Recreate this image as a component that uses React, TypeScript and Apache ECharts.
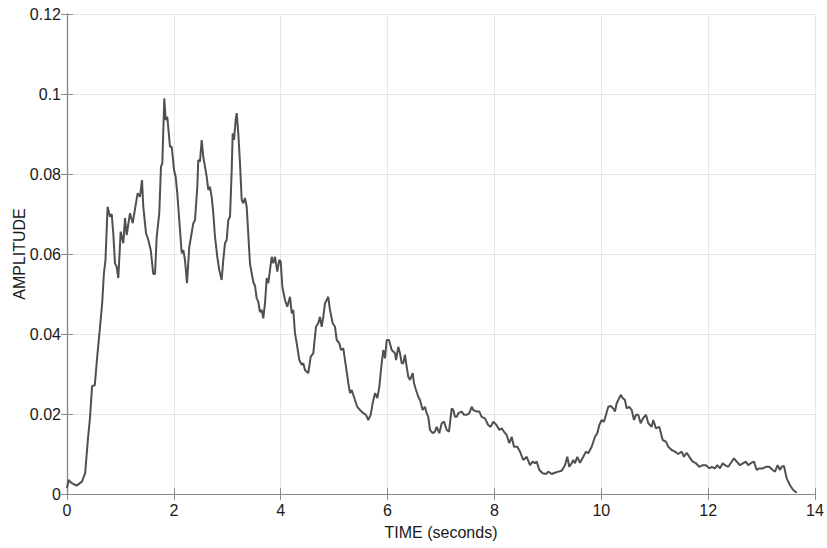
import React, { useEffect, useRef } from "react";
import * as echarts from "echarts";

// Time (seconds) and amplitude
const timeSec: number[] = [
  0, 0.03, 0.08, 0.18, 0.28, 0.34, 0.39, 0.43, 0.47, 0.52, 0.57, 0.62, 0.66, 0.69, 0.72, 0.76,
  0.805, 0.837, 0.867, 0.898, 0.93, 0.96, 1.005, 1.054, 1.086, 1.117, 1.179, 1.23, 1.291, 1.323,
  1.366, 1.404, 1.428, 1.479, 1.522, 1.567, 1.615, 1.647, 1.679, 1.727, 1.759, 1.784, 1.821, 1.847,
  1.877, 1.928, 1.96, 2.003, 2.034, 2.064, 2.115, 2.147, 2.177, 2.208, 2.246, 2.289, 2.321, 2.364,
  2.396, 2.439, 2.457, 2.489, 2.521, 2.551, 2.583, 2.615, 2.645, 2.676, 2.708, 2.738, 2.77, 2.813,
  2.85, 2.895, 2.925, 2.957, 2.989, 3.019, 3.051, 3.083, 3.101, 3.126, 3.157, 3.176, 3.206, 3.238,
  3.27, 3.3, 3.331, 3.363, 3.393, 3.425, 3.457, 3.487, 3.519, 3.55, 3.58, 3.612, 3.644, 3.674,
  3.706, 3.738, 3.768, 3.831, 3.861, 3.893, 3.936, 3.973, 4.0, 4.03, 4.08, 4.123, 4.174, 4.206,
  4.235, 4.267, 4.299, 4.348, 4.393, 4.423, 4.454, 4.516, 4.561, 4.61, 4.66, 4.703, 4.735, 4.767,
  4.797, 4.829, 4.861, 4.89, 4.922, 4.973, 5.016, 5.048, 5.096, 5.128, 5.171, 5.222, 5.265, 5.297,
  5.329, 5.39, 5.433, 5.484, 5.546, 5.596, 5.639, 5.684, 5.721, 5.765, 5.808, 5.845, 5.89, 5.92,
  5.952, 5.984, 6.027, 6.077, 6.139, 6.158, 6.201, 6.232, 6.264, 6.294, 6.326, 6.358, 6.388, 6.42,
  6.47, 6.495, 6.532, 6.575, 6.607, 6.657, 6.7, 6.732, 6.762, 6.794, 6.844, 6.887, 6.919, 6.968,
  7.013, 7.056, 7.107, 7.15, 7.2, 7.23, 7.262, 7.294, 7.324, 7.387, 7.43, 7.481, 7.53, 7.574,
  7.604, 7.668, 7.717, 7.761, 7.823, 7.885, 7.93, 7.979, 8.042, 8.091, 8.136, 8.179, 8.23, 8.278,
  8.323, 8.366, 8.428, 8.478, 8.54, 8.604, 8.666, 8.716, 8.759, 8.791, 8.84, 8.903, 8.965, 9.008,
  9.072, 9.133, 9.195, 9.259, 9.321, 9.364, 9.401, 9.446, 9.476, 9.508, 9.551, 9.601, 9.663, 9.714,
  9.757, 9.82, 9.882, 9.925, 9.962, 10.007, 10.05, 10.088, 10.131, 10.176, 10.224, 10.256, 10.288,
  10.337, 10.363, 10.4, 10.443, 10.475, 10.524, 10.569, 10.612, 10.65, 10.692, 10.737, 10.786,
  10.836, 10.88, 10.943, 10.973, 11.024, 11.085, 11.149, 11.211, 11.254, 11.318, 11.379, 11.441,
  11.505, 11.548, 11.598, 11.647, 11.711, 11.772, 11.834, 11.898, 11.96, 12.021, 12.066, 12.128,
  12.171, 12.221, 12.272, 12.315, 12.377, 12.422, 12.484, 12.534, 12.596, 12.658, 12.703, 12.751,
  12.796, 12.858, 12.909, 12.957, 13.021, 13.082, 13.144, 13.208, 13.251, 13.301, 13.344, 13.376,
  13.419, 13.47, 13.532, 13.593, 13.657,
];

const amplitude: number[] = [
  0.0015, 0.0035, 0.0028, 0.0021, 0.0031, 0.0052, 0.0135, 0.019, 0.027, 0.0272, 0.035, 0.042, 0.048, 0.055, 0.0585, 0.0718,
  0.0693, 0.07, 0.065, 0.0577, 0.0568, 0.054, 0.0656, 0.0627, 0.069, 0.0647, 0.0702, 0.0677, 0.0727, 0.0752,
  0.0743, 0.0785, 0.0718, 0.0652, 0.0635, 0.061, 0.055, 0.055, 0.0643, 0.0702, 0.0818, 0.0827, 0.0989, 0.0935,
  0.0943, 0.0868, 0.0868, 0.081, 0.0793, 0.0752, 0.066, 0.0602, 0.061, 0.0585, 0.0527, 0.0618, 0.0643, 0.0677,
  0.0685, 0.0768, 0.0835, 0.0831, 0.0885, 0.0843, 0.0818, 0.0793, 0.076, 0.0768, 0.0743, 0.0702, 0.0643, 0.0593,
  0.056, 0.0535, 0.0585, 0.0627, 0.0635, 0.0685, 0.0693, 0.081, 0.0902, 0.0885, 0.0935, 0.0952, 0.0902, 0.0827,
  0.0735, 0.0727, 0.074, 0.0718, 0.065, 0.0575, 0.0552, 0.053, 0.052, 0.049, 0.048, 0.0455, 0.046, 0.0439,
  0.0477, 0.054, 0.0527, 0.0593, 0.0577, 0.0593, 0.0556, 0.0585, 0.0581, 0.0518, 0.0485, 0.0468, 0.0493, 0.0452,
  0.046, 0.0402, 0.0377, 0.0335, 0.0323, 0.0327, 0.031, 0.0302, 0.0343, 0.0352, 0.0418, 0.0427, 0.0443, 0.0418,
  0.0443, 0.0477, 0.0485, 0.0493, 0.046, 0.0427, 0.0418, 0.0385, 0.0377, 0.036, 0.0364, 0.0318, 0.0277, 0.0252,
  0.026, 0.0235, 0.0218, 0.021, 0.0202, 0.0198, 0.0185, 0.0198, 0.0227, 0.0252, 0.024, 0.0268, 0.0327, 0.036,
  0.0339, 0.0385, 0.0385, 0.036, 0.0352, 0.0335, 0.0368, 0.0352, 0.0327, 0.0327, 0.0348, 0.0318, 0.0293, 0.0285,
  0.0302, 0.0277, 0.026, 0.0243, 0.0235, 0.021, 0.0218, 0.0202, 0.0193, 0.016, 0.0152, 0.0156, 0.0168, 0.0152,
  0.0177, 0.0181, 0.016, 0.0156, 0.0214, 0.021, 0.0193, 0.0193, 0.0202, 0.0206, 0.0198, 0.0198, 0.0202, 0.0218,
  0.021, 0.0206, 0.0206, 0.0193, 0.0189, 0.0172, 0.0168, 0.0181, 0.0172, 0.016, 0.0164, 0.0156, 0.0147, 0.0127,
  0.0143, 0.0118, 0.0118, 0.0106, 0.0085, 0.0093, 0.0072, 0.0081, 0.0077, 0.0081, 0.006, 0.0052, 0.005, 0.0056,
  0.005, 0.0053, 0.0056, 0.0058, 0.0072, 0.0093, 0.0068, 0.0077, 0.0085, 0.0077, 0.0093, 0.0078, 0.0093, 0.0106,
  0.0102, 0.0118, 0.0143, 0.0152, 0.0172, 0.0185, 0.0181, 0.0198, 0.0218, 0.022, 0.0214, 0.0206, 0.0227,
  0.024, 0.0248, 0.024, 0.0235, 0.0214, 0.0218, 0.021, 0.0185, 0.0198, 0.0198, 0.0177, 0.019,
  0.0198, 0.0177, 0.0168, 0.0185, 0.0164, 0.0168, 0.0135, 0.0131, 0.0118, 0.011, 0.0106, 0.01,
  0.0106, 0.0093, 0.0103, 0.0093, 0.0081, 0.0077, 0.0068, 0.0072, 0.0072, 0.0064, 0.0068, 0.0064,
  0.0072, 0.0064, 0.0077, 0.0072, 0.0068, 0.0077, 0.0089, 0.0081, 0.0072, 0.0077, 0.0081, 0.0072,
  0.0077, 0.0081, 0.006, 0.0064, 0.0064, 0.0068, 0.0068, 0.006, 0.0056, 0.0072, 0.006, 0.0068,
  0.007, 0.0039, 0.0022, 0.001, 0.0003,
];

const xTicks = { min: 0, max: 14, interval: 2 };
const yTicks = { min: 0, max: 0.12, interval: 0.02 };
const xName = "TIME (seconds)";
const yName = "AMPLITUDE";

const FONT = "Liberation Sans, Arial, Helvetica, sans-serif";
const AXIS_COLOR = "#8a8a8a";

export default function App() {
  const ref = useRef<HTMLDivElement>(null);
  useEffect(() => {
    if (!ref.current) return;
    const chart = echarts.init(ref.current, undefined, { renderer: "svg" });
    const data = timeSec.map((t, i) => [t, amplitude[i]]);
    const baseX = {
      type: "value" as const,
      min: xTicks.min,
      max: xTicks.max,
      interval: xTicks.interval,
      axisLine: { show: true, lineStyle: { color: AXIS_COLOR, width: 1.2 } },
      axisTick: { show: true, inside: true, length: 6, lineStyle: { color: AXIS_COLOR } },
    };
    const baseY = {
      type: "value" as const,
      min: yTicks.min,
      max: yTicks.max,
      interval: yTicks.interval,
      axisLine: { show: true, lineStyle: { color: AXIS_COLOR, width: 1.2 } },
      axisTick: { show: true, inside: true, length: 6, lineStyle: { color: AXIS_COLOR } },
    };
    chart.setOption({
      animation: false,
      backgroundColor: "#ffffff",
      grid: {
        left: 67,
        right: 12,
        top: 14,
        bottom: 54,
        containLabel: false,
        outerBoundsMode: "none",
      },
      xAxis: [
        {
          ...baseX,
          position: "bottom",
          name: xName,
          nameLocation: "middle",
          nameGap: 30,
          nameMoveOverlap: false,
          nameTextStyle: { fontFamily: FONT, fontSize: 16, color: "#1a1a1a" },
          axisLabel: { fontFamily: FONT, fontSize: 16, color: "#1a1a1a", margin: 8 },
          splitLine: { show: true, lineStyle: { color: "#e6e6e6", width: 1 } },
        },
        {
          ...baseX,
          position: "top",
          axisLabel: { show: false },
          splitLine: { show: false },
        },
      ],
      yAxis: [
        {
          ...baseY,
          position: "left",
          name: yName,
          nameLocation: "middle",
          nameGap: 40,
          nameRotate: 90,
          nameMoveOverlap: false,
          nameTextStyle: { fontFamily: FONT, fontSize: 16, color: "#1a1a1a" },
          axisLabel: { fontFamily: FONT, fontSize: 16, color: "#1a1a1a", margin: 6 },
          splitLine: { show: true, lineStyle: { color: "#e6e6e6", width: 1 } },
        },
        {
          ...baseY,
          position: "right",
          axisLabel: { show: false },
          splitLine: { show: false },
        },
      ],
      series: [
        {
          type: "line",
          data,
          xAxisIndex: 0,
          yAxisIndex: 0,
          showSymbol: false,
          symbol: "none",
          lineStyle: { color: "#505050", width: 2 },
        },
      ],
    });
    return () => chart.dispose();
  }, []);
  return <div ref={ref} style={{ width: 827, height: 548, position: "absolute", left: 0, top: 0 }} />;
}
